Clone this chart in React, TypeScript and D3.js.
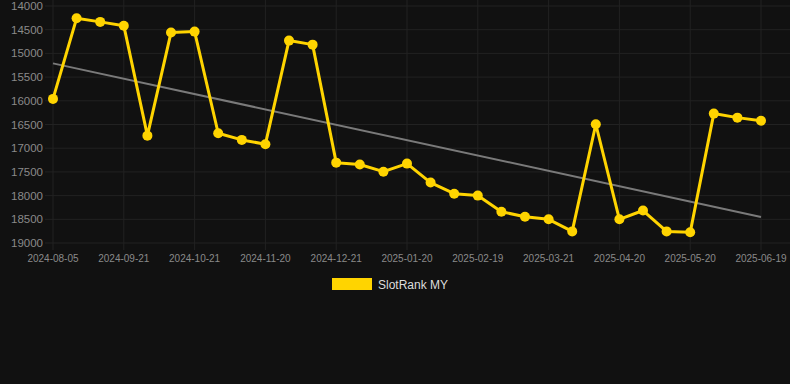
import React from "react";
import * as d3 from "d3";

const dates = [
  "2024-08-05", "2024-08-21", "2024-09-05", "2024-09-21", "2024-10-01", "2024-10-11",
  "2024-10-21", "2024-10-31", "2024-11-10", "2024-11-20", "2024-11-30", "2024-12-11",
  "2024-12-21", "2024-12-31", "2025-01-10", "2025-01-20", "2025-01-30", "2025-02-09",
  "2025-02-19", "2025-03-01", "2025-03-11", "2025-03-21", "2025-03-31", "2025-04-10",
  "2025-04-20", "2025-04-30", "2025-05-10", "2025-05-20", "2025-05-30", "2025-06-09",
  "2025-06-19",
];

const ranks = [
  15960, 14260, 14335, 14415, 16735, 14560, 14540, 16685, 16825, 16915, 14730, 14815,
  17305, 17345, 17495, 17325, 17725, 17960, 18000, 18340, 18445, 18500, 18755, 16495,
  18500, 18315, 18755, 18775, 16270, 16355, 16420,
];

const trendValues = [15210, 18450];
const yTicks = [14000, 14500, 15000, 15500, 16000, 16500, 17000, 17500, 18000, 18500, 19000];
const seriesName = "SlotRank MY";

export default function App() {
  const W = 790;
  const H = 384;
  const x = d3.scalePoint<string>().domain(dates).range([53, 761]);
  const y = d3.scaleLinear().domain([14000, 19000]).range([6, 243]);
  const xTickDates = dates.filter((_, i) => i % 3 === 0);
  const line = d3
    .line<number>()
    .x((_, i) => x(dates[i]) as number)
    .y((d) => y(d));
  const trendX = [x(dates[0]) as number, x(dates[dates.length - 1]) as number];

  return (
    <svg
      width={W}
      height={H}
      style={{ position: "fixed", left: 0, top: 0, display: "block" }}
      fontFamily="Arial, 'Liberation Sans', sans-serif"
    >
      <rect x={0} y={0} width={W} height={H} fill="#111111" />
      {yTicks.map((t) => (
        <line key={"h" + t} x1={45} x2={W} y1={y(t)} y2={y(t)} stroke="#222222" strokeWidth={1} />
      ))}
      {xTickDates.map((d) => (
        <line
          key={"v" + d}
          x1={x(d)}
          x2={x(d)}
          y1={0}
          y2={250}
          stroke="#222222"
          strokeWidth={1}
        />
      ))}
      {yTicks.map((t) => (
        <text
          key={"yl" + t}
          x={43}
          y={y(t)}
          dy="0.35em"
          textAnchor="end"
          fontSize={11.5}
          fill="#8a8a8a"
        >
          {t}
        </text>
      ))}
      {xTickDates.map((d) => (
        <text
          key={"xl" + d}
          x={x(d)}
          y={262}
          textAnchor="middle"
          fontSize={10}
          fill="#8a8a8a"
        >
          {d}
        </text>
      ))}
      <line
        x1={trendX[0]}
        x2={trendX[1]}
        y1={y(trendValues[0])}
        y2={y(trendValues[1])}
        stroke="#7a7a7a"
        strokeWidth={2}
      />
      <path d={line(ranks) || ""} fill="none" stroke="#ffd400" strokeWidth={3} strokeLinejoin="round" />
      {ranks.map((v, i) => (
        <circle key={"p" + i} cx={x(dates[i])} cy={y(v)} r={5} fill="#ffd400" />
      ))}
      <rect x={332} y={278} width={40} height={12} fill="#ffd400" />
      <text x={378} y={288.5} fontSize={12} fill="#dddddd">
        {seriesName}
      </text>
    </svg>
  );
}
